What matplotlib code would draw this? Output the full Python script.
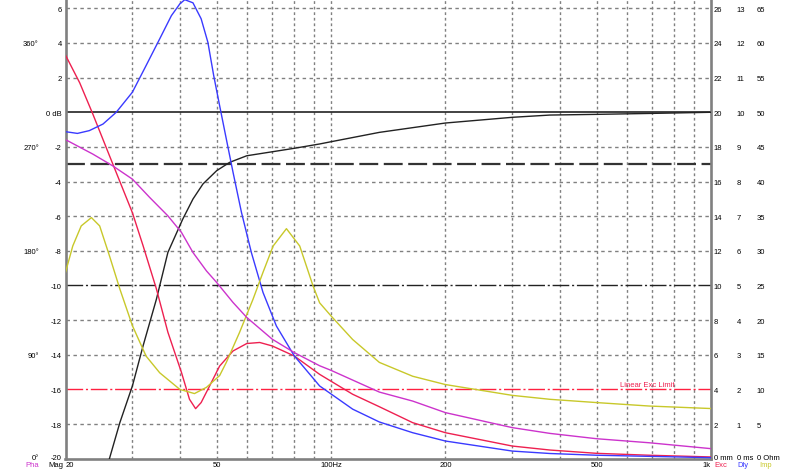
import numpy as np
import matplotlib
matplotlib.use('Agg')
import matplotlib.pyplot as plt

plt.rcParams['font.family'] = ['Liberation Sans', 'DejaVu Sans']
plt.rcParams['font.size'] = 5.5

# --- data (frequency in Hz) ---
spl_freq = [26.1, 27.8, 30, 32, 34.7, 37.2, 40.7, 43.3, 46, 50, 54.1, 60, 70, 80, 93.3,
            100, 134, 200, 300, 377, 500, 762, 1000]
spl_db = [-20, -17.92, -15.8, -13.49, -10.79, -8.09, -6.17, -5.01, -4.14, -3.37, -2.89,
          -2.51, -2.28, -2.08, -1.83, -1.70, -1.16, -0.62, -0.29, -0.16, -0.12, -0.05, 0.0]

dly_freq = [20, 21.5, 23.1, 25.1, 27.2, 30, 32.6, 35.4, 38.0, 40, 41.2, 43.3, 45.5, 47.4,
            49.1, 50.9, 53.0, 55.2, 58.1, 61.7, 66.2, 71.8, 80, 93.3, 114, 134, 164, 200,
            300, 377, 500, 1000]
dly_ms = [9.44, 9.39, 9.47, 9.66, 10.0, 10.58, 11.35, 12.12, 12.79, 13.13, 13.25, 13.16,
          12.7, 12.02, 11.06, 10.19, 9.23, 8.27, 7.11, 5.95, 4.8, 3.83, 2.97, 2.1, 1.43,
          1.06, 0.75, 0.51, 0.22, 0.15, 0.1, 0.03]

exc_freq = [20, 21.8, 23.6, 26.1, 30, 32, 34.7, 37.2, 40.4, 42.4, 44.0, 45.5, 47.9, 50.9,
            55.2, 60, 64.9, 70, 80, 93.3, 114, 134, 164, 200, 300, 377, 500, 688, 930, 1000]
exc_mm = [23.3, 21.7, 19.9, 17.5, 14.2, 12.3, 9.8, 7.3, 4.97, 3.43, 2.89, 3.24, 4.2, 5.35,
          6.22, 6.65, 6.71, 6.51, 5.93, 4.87, 3.72, 3.0, 2.08, 1.5, 0.73, 0.5, 0.31, 0.2,
          0.12, 0.1]

pha_freq = [20, 23.6, 26.6, 30, 33.3, 37.2, 40.4, 43.3, 47, 50, 55.2, 60, 70, 80, 93.3,
            100, 134, 164, 200, 300, 377, 500, 688, 1000]
pha_deg = [276.3, 263.8, 253.7, 242.1, 226.3, 210.3, 195.9, 178.6, 162.6, 152.6, 135.3,
           122.3, 103.5, 91.9, 80.5, 76.5, 57.7, 49.9, 39.9, 26.9, 21.9, 17.3, 13.8, 8.7]

imp_freq = [20, 20.9, 22.0, 23.4, 24.6, 26.1, 27.8, 30, 32.6, 35.4, 40, 43.7, 47, 50.9,
            53.0, 57.4, 62.3, 66.2, 70.4, 76.3, 82.7, 89.7, 93.3, 100, 114, 134, 164, 200,
            300, 377, 500, 688, 1000]
imp_ohm = [26.9, 30.7, 33.6, 34.8, 33.6, 29.3, 24.5, 19.2, 14.8, 12.4, 10.0, 9.4, 10.3,
           12.0, 13.9, 18.2, 23.0, 26.9, 30.7, 33.2, 30.7, 24.9, 22.5, 20.6, 17.2, 13.9,
           11.9, 10.7, 9.14, 8.57, 8.1, 7.6, 7.24]

mag_ticks = list(range(-20, 7, 2))
mag_labels = ['-20', '-18', '-16', '-14', '-12', '-10', '-8', '-6', '-4', '-2',
              '0 dB', '2', '4', '6']
x_ticks = [20, 50, 100, 200, 500, 1000]
x_labels = ['20', '50', '100Hz', '200', '500', '1k']
exc_limit_db = -16

BLUE = '#3a3aff'
RED = '#ee2050'
MAG = '#cc33cc'
YEL = '#c8c82a'
GRID = '#808080'

db_bot, db_top = -20, 6.54

fig = plt.figure(figsize=(8, 4.77), dpi=100)
ax = fig.add_axes([65.5 / 800, 17.3 / 477, 645.5 / 800, 459.7 / 477])
ax.set_xscale('log')
ax.set_xlim(20, 1000)
ax.set_ylim(db_bot, db_top)

# grid
for lvl in mag_ticks:
    if lvl in (-20, -16, -10, 0):
        continue
    ax.axhline(lvl, color=GRID, lw=1.0, ls=(0, (2.5, 2.5)), zorder=1)
for f in [30, 40, 50, 60, 70, 80, 90, 100, 200, 300, 400, 500, 600, 700, 800, 900]:
    ax.axvline(f, color=GRID, lw=1.0, ls=(0, (2, 2)), zorder=1)

# reference lines
ax.axhline(0, color='#222222', lw=1.2, zorder=2)
ax.axhline(-3, color='#333333', lw=1.6, ls=(0, (8.5, 2.5)), zorder=2)
ax.axhline(-10, color='#222222', lw=1.0, ls=(0, (12, 2, 1.5, 2)), zorder=2)
ax.axhline(exc_limit_db, color='#ff2040', lw=1.0, ls=(0, (12, 2, 1.5, 2)), zorder=2)
ax.text(800, exc_limit_db + 0.1, 'Linear Exc Limit', color='#ee2050', ha='right',
        va='bottom', fontsize=5.5)

ax.set_yticks(mag_ticks, mag_labels)
ax.set_xticks(x_ticks, x_labels)
ax.xaxis.set_minor_locator(matplotlib.ticker.NullLocator())
ax.tick_params(axis='both', length=0)
ax.tick_params(axis='y', pad=2.7)
ax.tick_params(axis='x', pad=1.5)
xl = ax.get_xticklabels()
xl[0].set_horizontalalignment('left')
xl[-1].set_horizontalalignment('right')
ax.get_yticklabels()[0].set_verticalalignment('baseline')

for side in ('left', 'bottom', 'right'):
    ax.spines[side].set_color(GRID)
    ax.spines[side].set_linewidth(1.9)
ax.spines['top'].set_visible(False)

ax.plot(spl_freq, spl_db, color='#222222', lw=1.0, zorder=5)


def twin(lo, hi, ticks, labels, side, pad):
    t = ax.twinx()
    t.set_ylim(lo, hi)
    t.set_xlim(20, 1000)
    for s in t.spines.values():
        s.set_visible(False)
    t.set_yticks(ticks, labels)
    if side == 'left':
        t.yaxis.tick_left()
    t.tick_params(axis='y', length=0, pad=pad)
    t.get_yticklabels()[0].set_verticalalignment('baseline')
    return t


exc_ax = twin(db_bot + 20, db_top + 20, list(range(0, 27, 2)),
              ['0 mm'] + [str(v) for v in range(2, 27, 2)], 'right', 1.8)
dly_ax = twin((db_bot + 20) / 2, (db_top + 20) / 2, list(range(0, 14)),
              ['0 ms'] + [str(v) for v in range(1, 14)], 'right', 18.4)
imp_ax = twin((db_bot + 20) * 2.5, (db_top + 20) * 2.5, list(range(0, 66, 5)),
              ['0 Ohm'] + [str(v) for v in range(5, 66, 5)], 'right', 32.8)
pha_ax = twin((db_bot + 20) * 15, (db_top + 20) * 15, [0, 90, 180, 270, 360],
              ['0°', '90°', '180°', '270°', '360°'], 'left', 19.2)

imp_ax.plot(imp_freq, imp_ohm, color=YEL, lw=1.0)
pha_ax.plot(pha_freq, pha_deg, color=MAG, lw=1.0)
exc_ax.plot(exc_freq, exc_mm, color=RED, lw=1.0)
dly_ax.plot(dly_freq, dly_ms, color=BLUE, lw=1.0)

# unit legends at the bottom
yb = 1 - 467 / 477
fig.text(63 / 800, yb, 'Mag', ha='right', va='baseline', fontsize=5.5)
fig.text(39.5 / 800, yb, 'Pha', ha='right', va='baseline', fontsize=5.5, color=MAG)
fig.text(714 / 800, yb, 'Exc', ha='left', va='baseline', fontsize=5.5, color=RED)
fig.text(737 / 800, yb, 'Dly', ha='left', va='baseline', fontsize=5.5, color=BLUE)
fig.text(759 / 800, yb, 'Imp', ha='left', va='baseline', fontsize=5.5, color=YEL)

fig.savefig('out.png', dpi=100, facecolor='white')
